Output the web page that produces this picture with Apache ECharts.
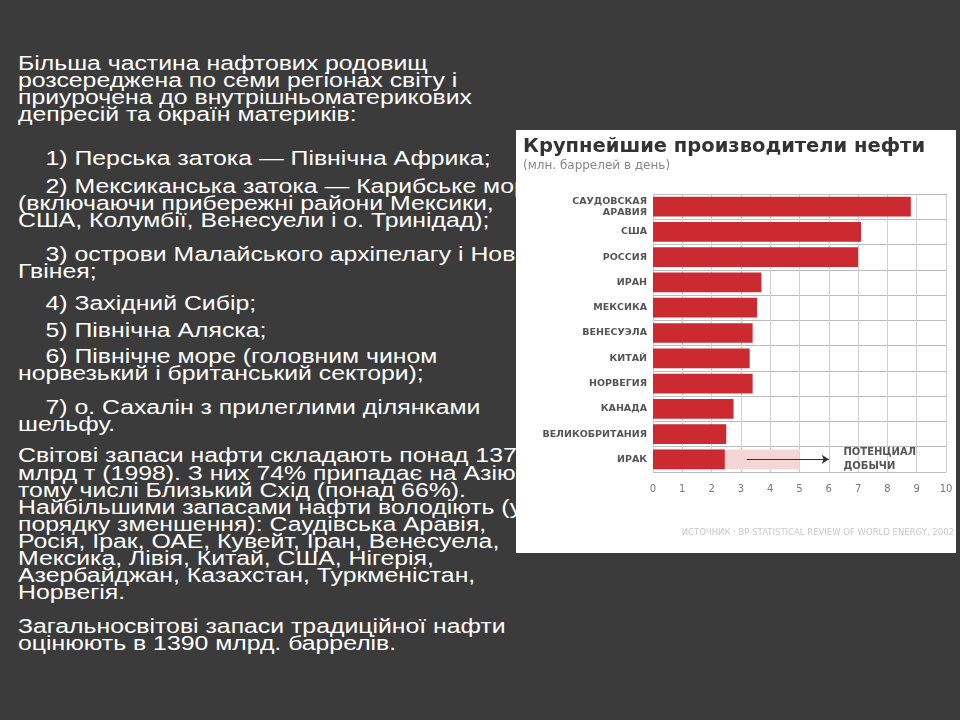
<!DOCTYPE html>
<html><head><meta charset="utf-8">
<script src="https://cdn.jsdelivr.net/npm/echarts@6/dist/echarts.min.js"></script>
<style>
body{margin:0;width:960px;height:720px;background:#3b3b3b;overflow:hidden;position:relative;font-family:"Liberation Sans",Arial,sans-serif}
.t{position:absolute;left:18px;color:#fff;font-size:20px;line-height:20px;white-space:nowrap;transform:scaleX(1.24);transform-origin:0 50%}
#chart{position:absolute;left:516px;top:130px;width:440px;height:423px;background:#fff}
</style></head><body>
<div id="txt"></div>
<div id="chart"></div>
<script>
const countries = ['САУДОВСКАЯ\nАРАВИЯ','США','РОССИЯ','ИРАН','МЕКСИКА','ВЕНЕСУЭЛА','КИТАЙ','НОРВЕГИЯ','КАНАДА','ВЕЛИКОБРИТАНИЯ','ИРАК']
const output = [8.8, 7.1, 7.0, 3.7, 3.55, 3.4, 3.3, 3.4, 2.75, 2.5, 2.45]
const potential = [null, null, null, null, null, null, null, null, null, null, 5.0]
const xTicks = [0, 1, 2, 3, 4, 5, 6, 7, 8, 9, 10]

const lines = [
  [63, 'Більша частина нафтових родовищ'],
  [80, 'розсереджена по семи регіонах світу і'],
  [97, 'приурочена до внутрішньоматерикових'],
  [114, 'депресій та окраїн материків:'],
  [158, '&nbsp;&nbsp;&nbsp;&nbsp;1) Перська затока — Північна Африка;'],
  [186, '&nbsp;&nbsp;&nbsp;&nbsp;2) Мексиканська затока — Карибське море'],
  [203, '(включаючи прибережні райони Мексики,'],
  [220, 'США, Колумбії, Венесуели і о. Тринідад);'],
  [254, '&nbsp;&nbsp;&nbsp;&nbsp;3) острови Малайського архіпелагу і Нова'],
  [271, 'Гвінея;'],
  [303, '&nbsp;&nbsp;&nbsp;&nbsp;4) Західний Сибір;'],
  [330, '&nbsp;&nbsp;&nbsp;&nbsp;5) Північна Аляска;'],
  [356, '&nbsp;&nbsp;&nbsp;&nbsp;6) Північне море (головним чином'],
  [373, 'норвезький і британський сектори);'],
  [407, '&nbsp;&nbsp;&nbsp;&nbsp;7) о. Сахалін з прилеглими ділянками'],
  [424, 'шельфу.'],
  [455, 'Світові запаси нафти складають понад 137,5'],
  [473, 'млрд т (1998). З них 74% припадає на Азію, у'],
  [490, 'тому числі Близький Схід (понад 66%).'],
  [507, 'Найбільшими запасами нафти володіють (у'],
  [524, 'порядку зменшення): Саудівська Аравія,'],
  [541, 'Росія, Ірак, ОАЕ, Кувейт, Іран, Венесуела,'],
  [558, 'Мексика, Лівія, Китай, США, Нігерія,'],
  [575, 'Азербайджан, Казахстан, Туркменістан,'],
  [592, 'Норвегія.'],
  [626, 'Загальносвітові запаси традиційної нафти'],
  [643, 'оцінюють в 1390 млрд. баррелів.']
]
document.getElementById('txt').innerHTML = lines.map(l =>
  '<div class="t" style="top:' + (l[0] - 10) + 'px">' + l[1] + '</div>').join('')

const myChart = echarts.init(document.getElementById('chart'))
const option = {
  animation: false,
  textStyle: { fontFamily: 'DejaVu Sans' },
  title: {
    text: 'Крупнейшие производители нефти',
    subtext: '(млн. баррелей в день)',
    left: 2, top: 2, itemGap: 3,
    textStyle: { fontSize: 19.5, fontWeight: 'bold', color: '#333' },
    subTextStyle: { fontSize: 16, fontWeight: 'bold', color: '#444' }
  },
  grid: { left: 137, right: 10, top: 64, bottom: 81 },
  xAxis: {
    type: 'value', min: 0, max: 10, interval: 1,
    axisLine: { show: false }, axisTick: { show: false },
    axisLabel: { color: '#777', fontSize: 10, margin: 12,
      formatter: v => xTicks.includes(v) ? String(v) : '' },
    splitLine: { lineStyle: { color: '#d0d0d0' } }
  },
  yAxis: {
    type: 'category', inverse: true, data: countries,
    axisLine: { show: true, lineStyle: { color: '#ccc' } }, axisTick: { show: false },
    axisLabel: { color: '#555', fontSize: 9.5, fontWeight: 'bold', lineHeight: 11, margin: 6 },
    splitLine: { show: true, lineStyle: { color: '#bbb' } }
  },
  series: [
    {
      type: 'bar', data: potential, barWidth: '78%', z: 1,
      itemStyle: { color: '#f6d5d7' },
      markLine: {
        silent: true, symbol: ['none', 'arrow'], symbolSize: 7,
        label: { show: false },
        lineStyle: { color: '#333', type: 'solid', width: 1 },
        data: [[{ coord: [3.2, 'ИРАК'] }, { coord: [6.0, 'ИРАК'] }]]
      },
      markPoint: {
        symbolSize: 0,
        label: { show: true, formatter: 'ПОТЕНЦИАЛ\nДОБЫЧИ', color: '#555',
          fontSize: 10, fontWeight: 'bold', lineHeight: 14, align: 'left' },
        data: [{ coord: [6.5, 9.5] }]
      }
    },
    {
      type: 'bar', data: output, barWidth: '78%', barGap: '-100%', z: 2,
      itemStyle: { color: '#cc2a31' }
    }
  ],
  graphic: [{
    type: 'text', right: 2, bottom: 16,
    style: { text: 'ИСТОЧНИК · BP STATISTICAL REVIEW OF WORLD ENERGY, 2002',
      fill: '#c8c8c8', font: '8.5px "DejaVu Sans"' }
  }]
}
myChart.setOption(option)
</script>
</body></html>
